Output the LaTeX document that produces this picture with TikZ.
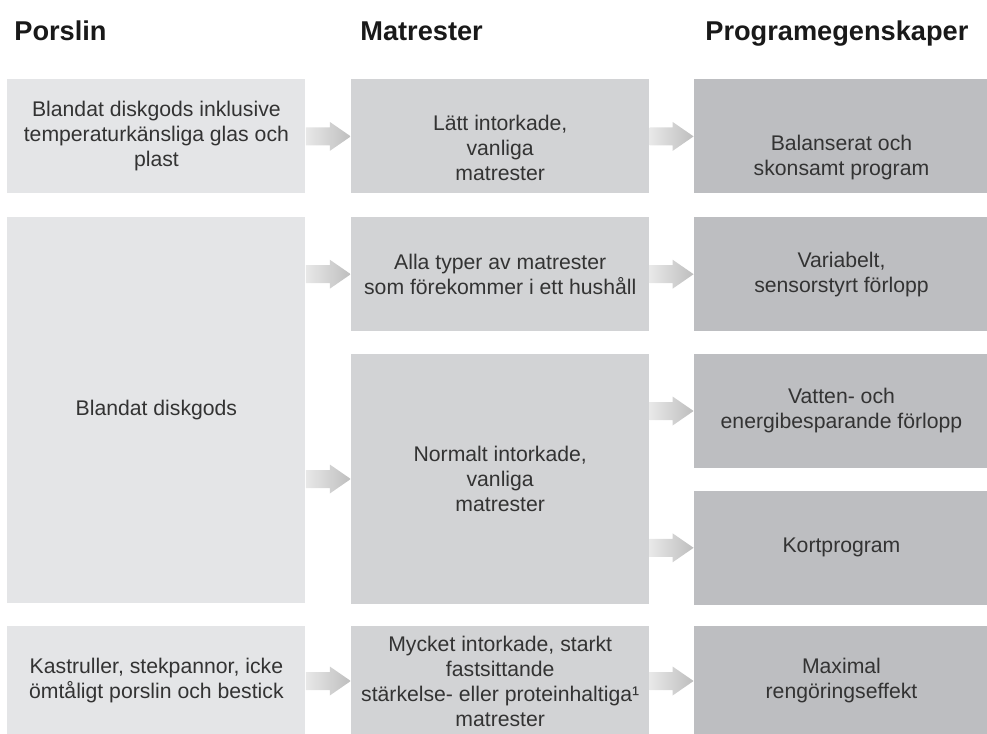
\documentclass[tikz,border=0pt]{standalone}
\usepackage{fontspec}
\setmainfont{Liberation Sans}
\usepackage{xcolor}
\usepackage{tikz}
\usetikzlibrary{positioning,calc}

\definecolor{porslinfill}{HTML}{E4E5E7}
\definecolor{matfill}{HTML}{D2D3D5}
\definecolor{progfill}{HTML}{BDBEC1}
\definecolor{textgray}{HTML}{333333}
\definecolor{arrowlight}{HTML}{E8E8E8}
\definecolor{arrowdark}{HTML}{BEBEBE}

% shaded block arrow from the edge of #1 to the middle of #2
\newcommand\flowarrow[2]{%
  \path[flow arrow] let \p1=(#1.east |- #2.west), \p2=(#2.west) in
    (\x1,\y1+4.5pt) -- (\x2-10.5pt,\y1+4.5pt) -- (\x2-10.5pt,\y1+7.25pt)
    -- (\x2,\y1) -- (\x2-10.5pt,\y1-7.25pt) -- (\x2-10.5pt,\y1-4.5pt)
    -- (\x1,\y1-4.5pt) -- cycle;}
% taller first line, pushes the text of a box down
\newcommand\toppad[1]{\rule{0pt}{#1}}

\begin{document}
\begin{tikzpicture}[
  x=0.5pt,y=-0.5pt,
  node distance=11pt and 22pt,
  header/.style={font=\fontsize{13.6}{15}\selectfont\bfseries,text=black!90,inner sep=0pt},
  cell/.style={inner sep=2pt,align=center,text=textgray,
    font=\fontsize{10.6}{12.5}\selectfont,minimum height=57pt},
  porslin box/.style={cell,fill=porslinfill,minimum width=149pt},
  mat box/.style={cell,fill=matfill,minimum width=149pt},
  prog box/.style={cell,fill=progfill,minimum width=147.5pt},
  flow arrow/.style={left color=arrowlight,right color=arrowdark,draw=none}
]
\useasboundingbox (0,0) rectangle (987,734);

% column headings
\node[header,anchor=base west] (hd-porslin) at (14,40) {Porslin};
\node[header,anchor=base west] (hd-matrester) at (360,40) {Matrester};
\node[header,anchor=base west] (hd-program) at (705,40) {Programegenskaper};

% first row
\node[porslin box,anchor=north west] (r1a) at (7,79) {
  Blandat diskgods inklusive\\temperaturkänsliga glas och\\plast};
\node[mat box,right=22.5pt of r1a] (r1b) {\toppad{19pt}Lätt intorkade,\\vanliga\\matrester};
\node[prog box,right=22pt of r1b] (r1c) {\toppad{29pt}Balanserat och\\skonsamt program};

% second row
\node[porslin box,minimum height=193pt,below=11.5pt of r1a] (r2a) {Blandat diskgods};
\node[mat box,right=22.5pt of r2a.north east,anchor=north west] (r2b) {
  Alla typer av matrester\\som förekommer i ett hushåll};
\node[mat box,minimum height=125pt,below=11pt of r2b] (r2c) {
  Normalt intorkade,\\vanliga\\matrester};
\node[prog box,right=22pt of r2b] (r2d) {Variabelt,\\sensorstyrt förlopp};
\node[prog box,below=11pt of r2d] (r2e) {Vatten- och\\energibesparande förlopp};
\node[prog box,below=11pt of r2e] (r2f) {Kortprogram};

% third row
\node[porslin box,minimum height=55pt,below=11pt of r2a] (r3a) {
  Kastruller, stekpannor, icke\\ömtåligt porslin och bestick};
\node[mat box,minimum height=55pt,right=22.5pt of r3a] (r3b) {
  Mycket intorkade, starkt\\fastsittande\\stärkelse- eller proteinhaltiga¹\\matrester};
\node[prog box,minimum height=55pt,right=22pt of r3b] (r3c) {Maximal\\rengöringseffekt};

% arrows
\flowarrow{r1a}{r1b}
\flowarrow{r1b}{r1c}
\flowarrow{r2a}{r2b}
\flowarrow{r2a}{r2c}
\flowarrow{r2b}{r2d}
\flowarrow{r2c}{r2e}
\flowarrow{r2c}{r2f}
\flowarrow{r3a}{r3b}
\flowarrow{r3b}{r3c}

\end{tikzpicture}
\end{document}
